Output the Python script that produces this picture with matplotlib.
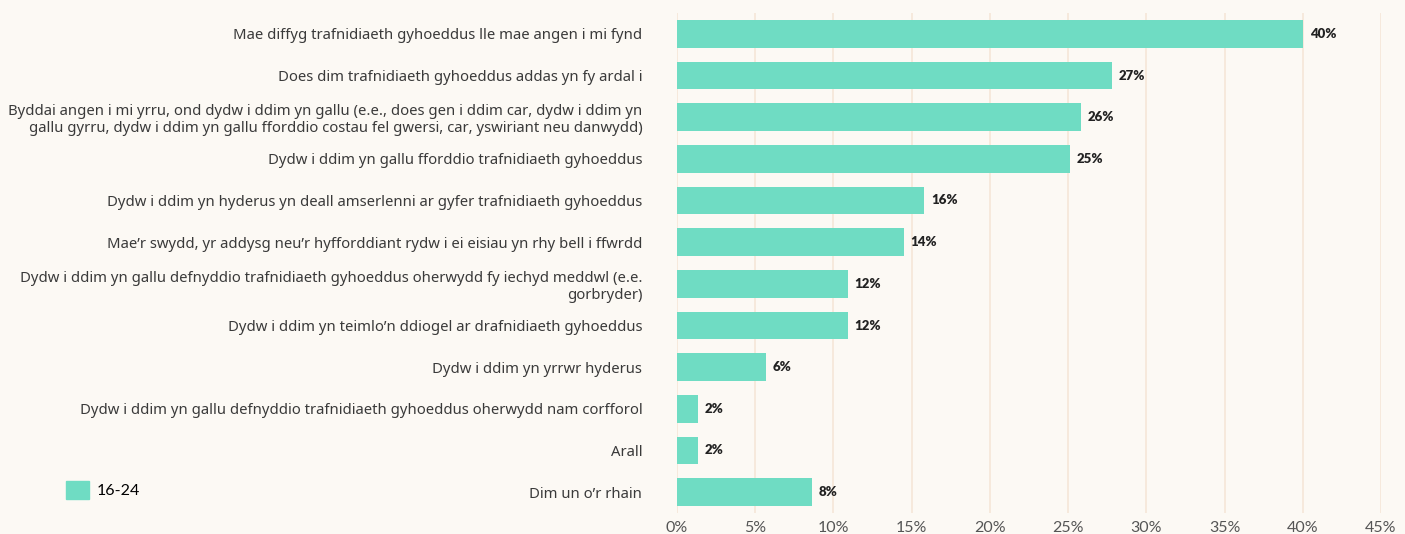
import matplotlib.pyplot as plt
from matplotlib.patches import Patch

# survey answers, top to bottom
categories = [
    "Mae diffyg trafnidiaeth gyhoeddus lle mae angen i mi fynd",
    "Does dim trafnidiaeth gyhoeddus addas yn fy ardal i",
    "Byddai angen i mi yrru, ond dydw i ddim yn gallu (e.e., does gen i ddim car, dydw i ddim yn\n"
    "gallu gyrru, dydw i ddim yn gallu fforddio costau fel gwersi, car, yswiriant neu danwydd)",
    "Dydw i ddim yn gallu fforddio trafnidiaeth gyhoeddus",
    "Dydw i ddim yn hyderus yn deall amserlenni ar gyfer trafnidiaeth gyhoeddus",
    "Mae\u2019r swydd, yr addysg neu\u2019r hyfforddiant rydw i ei eisiau yn rhy bell i ffwrdd",
    "Dydw i ddim yn gallu defnyddio trafnidiaeth gyhoeddus oherwydd fy iechyd meddwl (e.e.\ngorbryder)",
    "Dydw i ddim yn teimlo\u2019n ddiogel ar drafnidiaeth gyhoeddus",
    "Dydw i ddim yn yrrwr hyderus",
    "Dydw i ddim yn gallu defnyddio trafnidiaeth gyhoeddus oherwydd nam corfforol",
    "Arall",
    "Dim un o\u2019r rhain",
]

# bar lengths as drawn (percent)
values = [40.0, 27.8, 25.8, 25.1, 15.8, 14.5, 10.9, 10.9, 5.7, 1.35, 1.35, 8.6]

# labels printed next to the bars
value_labels = ["40%", "27%", "26%", "25%", "16%", "14%", "12%", "12%", "6%", "2%", "2%", "8%"]

xticks = [0, 5, 10, 15, 20, 25, 30, 35, 40, 45]
series_name = "16-24"

bg = "#fcf9f4"
bar_color = "#6fdcc3"
grid_color = "#f6e8da"

fig = plt.figure(figsize=(14.05, 5.34), dpi=100, facecolor=bg)
ax = fig.add_axes([677 / 1405, 1 - 513 / 534, (1381 - 677) / 1405, 500 / 534])
ax.set_facecolor(bg)

ypos = list(range(len(categories)))
ax.barh(ypos, values, height=0.66, color=bar_color, zorder=2)

for y, v, lab in zip(ypos, values, value_labels):
    ax.annotate(lab, (v, y), xytext=(5, 0), textcoords="offset points",
                va="center", ha="left", fontsize=9.5, fontweight="heavy",
                family="Lato", color="#222222")

ax.set_xlim(0, 45)
ax.set_ylim(len(categories) - 0.5, -0.5)
ax.set_xticks(xticks)
ax.set_xticklabels([f"{t}%" for t in xticks], family="Lato", fontsize=11.5,
                   color="#555555")
ax.set_yticks(ypos)
ax.set_yticklabels(categories, family="Noto Sans", fontsize=10.7, color="#3a3a3a",
                   linespacing=1.2)
ax.tick_params(axis="y", length=0, pad=25)
ax.tick_params(axis="x", length=0, pad=6)
ax.grid(axis="x", color=grid_color, linewidth=1.3, zorder=0)
for s in ax.spines.values():
    s.set_visible(False)

fig.legend(handles=[Patch(color=bar_color, label=series_name)],
           loc="center left", bbox_to_anchor=(52 / 1405, 1 - 490 / 534),
           frameon=False, handlelength=1.4, handleheight=1.4, handletextpad=0.5,
           prop={"family": "Lato", "size": 11.5})

fig.savefig("out.png", dpi=100, facecolor=bg)
